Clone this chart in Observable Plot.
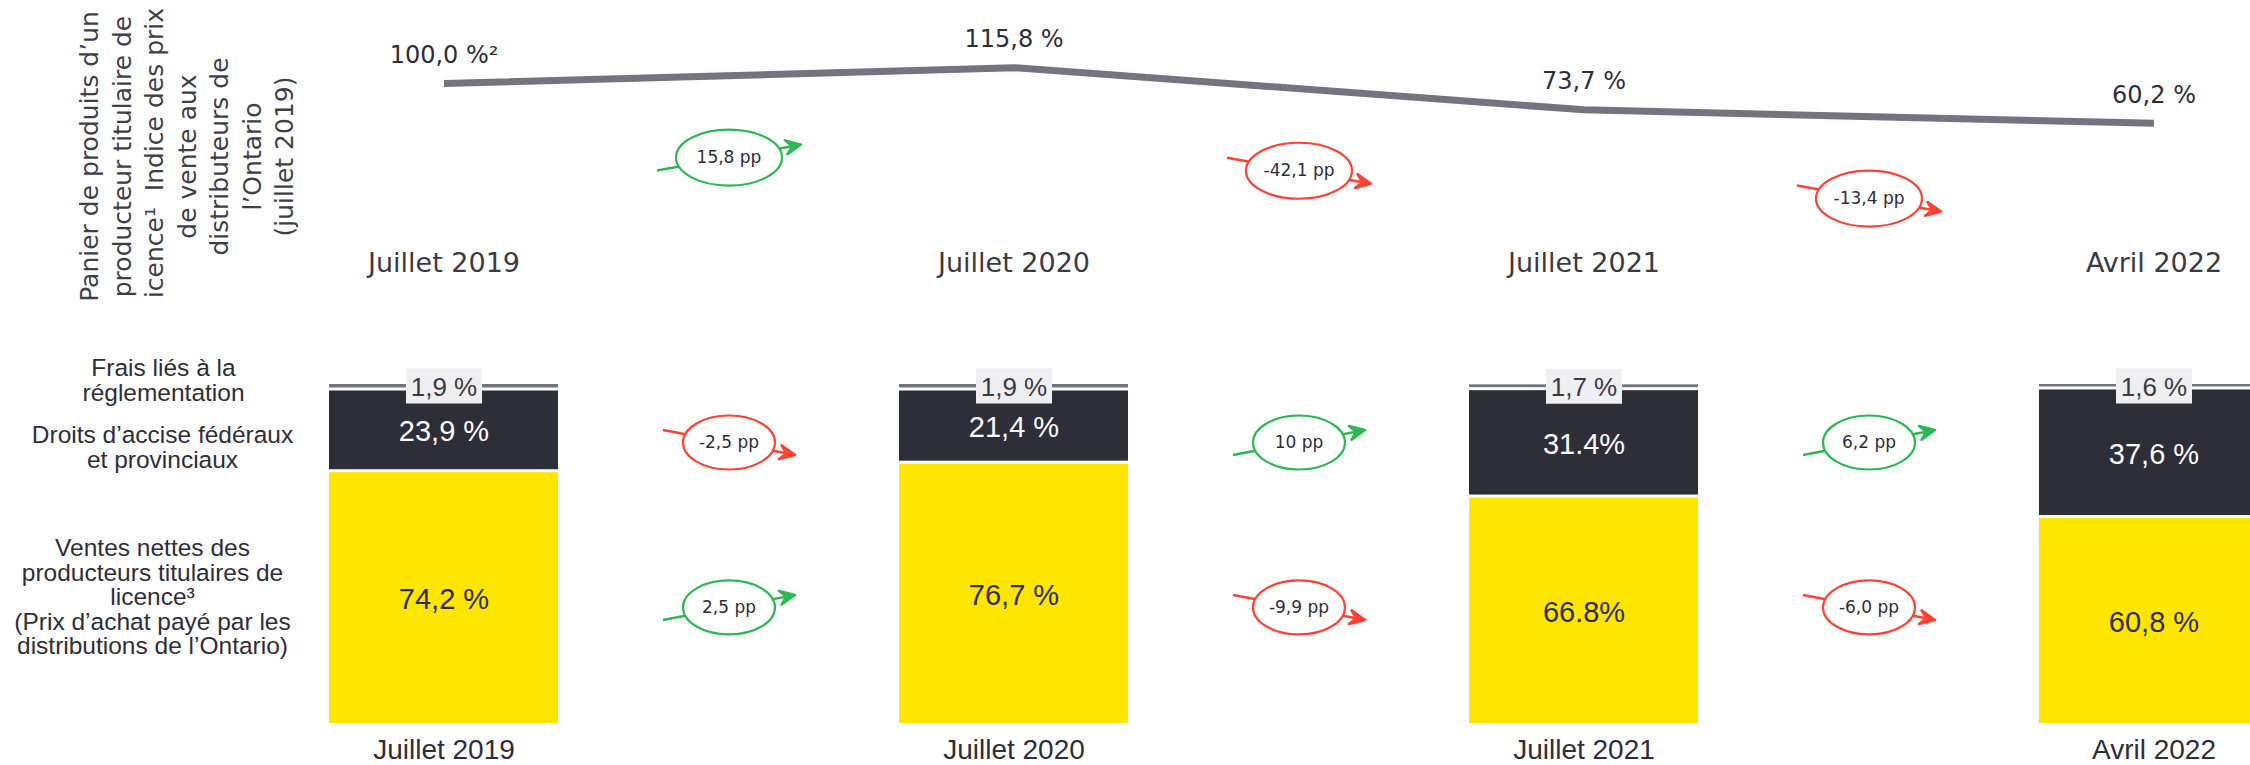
<!DOCTYPE html>
<html>
<head>
<meta charset="utf-8">
<script src="https://cdn.jsdelivr.net/npm/d3@7"></script>
<script src="https://cdn.jsdelivr.net/npm/@observablehq/plot@0.6"></script>
<style>
  html, body { margin: 0; padding: 0; background: #ffffff; overflow: hidden; }
  #chart { width: 2250px; height: 765px; }
  #chart svg { display: block; }
</style>
</head>
<body>
<div id="chart"></div>
<script>
// ---------------- DATA ----------------
const periods = ["Juillet 2019", "Juillet 2020", "Juillet 2021", "Avril 2022"];
const transitions = ["2019→2020", "2020→2021", "2021→2022"];

// Top panel: price index of a licensed producer basket (July 2019 = 100)
const indexValues = [100.0, 115.8, 73.7, 60.2];
const indexLabels = ["100,0 %²", "115,8 %", "73,7 %", "60,2 %"];
const indexChanges = [15.8, -42.1, -13.4];
const indexChangeLabels = ["15,8 pp", "-42,1 pp", "-13,4 pp"];

// Bottom panel: composition of the price (stacked, bottom to top)
const seriesNames = ["Ventes nettes", "Droits d'accise", "Frais"];
const ventesValues = [74.2, 76.7, 66.8, 60.8];
const ventesLabels = ["74,2 %", "76,7 %", "66.8%", "60,8 %"];
const droitsValues = [23.9, 21.4, 31.4, 37.6];
const droitsLabels = ["23,9 %", "21,4 %", "31.4%", "37,6 %"];
const fraisValues = [1.9, 1.9, 1.7, 1.6];
const fraisLabels = ["1,9 %", "1,9 %", "1,7 %", "1,6 %"];

const ventesChanges = [2.5, -9.9, -6.0];
const ventesChangeLabels = ["2,5 pp", "-9,9 pp", "-6,0 pp"];
const droitsChanges = [-2.5, 10, 6.2];
const droitsChangeLabels = ["-2,5 pp", "10 pp", "6,2 pp"];

const seriesTexts = [
  "Ventes nettes des\nproducteurs titulaires de\nlicence³\n(Prix d’achat payé par les\ndistributions de l’Ontario)",
  "Droits d’accise fédéraux\net provinciaux",
  "Frais liés à la\nréglementation"
];
const indexTitle = "Panier de produits d’un\nproducteur titulaire de\nlicence¹  Indice des prix\nde vente aux\ndistributeurs de\nl’Ontario\n(juillet 2019)";

// ---------------- STYLE ----------------
const FONT_D = "'DejaVu Sans', sans-serif";
const FONT_L = "'Liberation Sans', Arial, sans-serif";
const YELLOW = "#FFE600", DARK = "#2E2E38", GRAY = "#747480";
const GREEN = "#2DB757", RED = "#FF4136", INK = "#2E2E38";

// x: periods interleaved with the transitions between them
const xDomain = periods.flatMap((p, i) => i < transitions.length ? [p, transitions[i]] : [p]);
const xScale = {type: "band", domain: xDomain, range: [270, 2328], padding: 0.196, axis: null};

// custom glyphs
function ellipseSymbol(rx, ry) {
  const k = 0.5522847498;
  return {draw(ctx) {
    ctx.moveTo(rx, 0);
    ctx.bezierCurveTo(rx, ry * k, rx * k, ry, 0, ry);
    ctx.bezierCurveTo(-rx * k, ry, -rx, ry * k, -rx, 0);
    ctx.bezierCurveTo(-rx, -ry * k, -rx * k, -ry, 0, -ry);
    ctx.bezierCurveTo(rx * k, -ry, rx, -ry * k, rx, 0);
    ctx.closePath();
  }};
}
function arrowSymbol(hx, hy, up) {
  return {draw(ctx) {
    const x0 = -hx, y0 = up ? hy : -hy, x1 = hx, y1 = -y0;
    const len = Math.hypot(x1 - x0, y1 - y0);
    const ux = (x1 - x0) / len, uy = (y1 - y0) / len, nx = -uy, ny = ux;
    const L = 15, W = 7, N = 9;
    ctx.moveTo(x0, y0);
    ctx.lineTo(x1 - N * ux, y1 - N * uy);
    ctx.moveTo(x1, y1);
    ctx.lineTo(x1 - L * ux + W * nx, y1 - L * uy + W * ny);
    ctx.lineTo(x1 - N * ux, y1 - N * uy);
    ctx.lineTo(x1 - L * ux - W * nx, y1 - L * uy - W * ny);
    ctx.closePath();
  }};
}
const boxSymbol = {draw(ctx) { ctx.rect(-38, -17.5, 76, 35); }};

function changeMarks(rows, {dy, rx, ry, hx, hy}) {
  const ups = rows.filter(d => d.change > 0), downs = rows.filter(d => d.change <= 0);
  const base = {x: "key", y: "y", dy};
  return [
    Plot.dot(ups, {...base, symbol: arrowSymbol(hx, hy, true), fill: GREEN, stroke: GREEN, strokeWidth: 2.5, strokeLinejoin: "round"}),
    Plot.dot(downs, {...base, symbol: arrowSymbol(hx, hy, false), fill: RED, stroke: RED, strokeWidth: 2.5, strokeLinejoin: "round"}),
    Plot.dot(ups, {...base, symbol: ellipseSymbol(rx, ry), fill: "white", stroke: GREEN, strokeWidth: 2.2}),
    Plot.dot(downs, {...base, symbol: ellipseSymbol(rx, ry), fill: "white", stroke: RED, strokeWidth: 2.2}),
    Plot.text(rows, {...base, text: "label", fontSize: 17, fontFamily: FONT_D, fill: INK})
  ];
}

// ---------------- TOP PANEL ----------------
const indexRows = periods.map((p, i) => ({period: p, value: indexValues[i], label: indexLabels[i]}));
const indexChangeRows = transitions.map((key, i) => ({
  key, change: indexChanges[i], label: indexChangeLabels[i],
  y: (indexValues[i] + indexValues[i + 1]) / 2
}));

const topPlot = Plot.plot({
  width: 2250, height: 300,
  marginTop: 0, marginRight: 0, marginBottom: 0, marginLeft: 0,
  style: {background: "transparent", overflow: "hidden"},
  x: xScale,
  y: {domain: [0, 100], range: [183, 83], axis: null},
  marks: [
    Plot.text([indexTitle], {text: d => d, frameAnchor: "left", dx: 185, dy: 6, rotate: -90,
      textAnchor: "middle", lineAnchor: "middle",
      fontSize: 25, fontFamily: FONT_D, fill: "#3F3F4A", lineHeight: 1.3}),
    Plot.line(indexRows, {x: "period", y: "value", stroke: GRAY, strokeWidth: 7,
      strokeLinecap: "butt", strokeLinejoin: "miter"}),
    Plot.text(indexRows, {x: "period", y: "value", text: "label", dy: -28,
      fontSize: 24, fontFamily: FONT_D, fill: INK}),
    ...changeMarks(indexChangeRows, {dy: 82, rx: 53, ry: 28, hx: 72, hy: 13}),
    Plot.text(periods, {x: d => d, text: d => d, frameAnchor: "bottom", dy: -37,
      textAnchor: "middle", lineAnchor: "middle",
      fontSize: 27, fontFamily: FONT_D, fill: "#3A3A45"})
  ]
});

// ---------------- BOTTOM PANEL ----------------
const seriesValues = [ventesValues, droitsValues, fraisValues];
const seriesLabels = [ventesLabels, droitsLabels, fraisLabels];
const barRows = periods.flatMap((p, i) => seriesNames.map((s, j) => ({
  period: p, series: s, value: seriesValues[j][i], label: seriesLabels[j][i]
})));
const totals = periods.map((p, i) => ({
  period: p, total: ventesValues[i] + droitsValues[i] + fraisValues[i], label: fraisLabels[i]
}));
// mid-points of each segment (value space)
const mids = seriesNames.map((s, j) => periods.map((p, i) => {
  let below = 0;
  for (let k = 0; k < j; k++) below += seriesValues[k][i];
  return below + seriesValues[j][i] / 2;
}));
const rowY = mids.map(m => d3.mean(m));
const ventesChangeRows = transitions.map((key, i) => ({key, change: ventesChanges[i], label: ventesChangeLabels[i], y: rowY[0]}));
const droitsChangeRows = transitions.map((key, i) => ({key, change: droitsChanges[i], label: droitsChangeLabels[i], y: rowY[1]}));

// layout offsets of the left-hand series labels (style only)
const seriesLabelLayout = [{dx: 152, dy: -2}, {dx: 162, dy: 16}, {dx: 163, dy: -7}];

const bottomPlot = Plot.plot({
  width: 2250, height: 465,
  marginTop: 0, marginRight: 0, marginBottom: 0, marginLeft: 0,
  style: {background: "transparent", overflow: "hidden"},
  x: xScale,
  y: {domain: [0, 100], range: [426, 84], axis: null},
  color: {domain: seriesNames, range: [YELLOW, DARK, GRAY]},
  marks: [
    Plot.barY(barRows, Plot.stackY({x: "period", y: "value", z: "series", fill: "series", insetBottom: 3})),
    Plot.text(barRows, Plot.stackY({x: "period", y: "value", z: "series",
      text: d => d.series === seriesNames[1] ? d.label : null,
      fill: "white", fontSize: 29, fontFamily: FONT_L})),
    Plot.text(barRows, Plot.stackY({x: "period", y: "value", z: "series",
      text: d => d.series === seriesNames[0] ? d.label : null,
      fill: INK, fontSize: 29, fontFamily: FONT_L})),
    Plot.dot(totals, {x: "period", y: "total", dy: 1.5, symbol: boxSymbol, fill: "#EFEFF2"}),
    Plot.text(totals, {x: "period", y: "total", dy: 3, text: "label",
      fontSize: 26, fontFamily: FONT_L, fill: "#3A3A45"}),
    ...seriesTexts.map((t, j) => Plot.text([{text: t, y: mids[j][0]}], {
      y: "y", text: "text", frameAnchor: "left", dx: seriesLabelLayout[j].dx, dy: seriesLabelLayout[j].dy,
      textAnchor: "middle", lineAnchor: "middle",
      fontSize: 24.5, lineHeight: 1.0, fontFamily: FONT_L, fill: INK})),
    ...changeMarks(droitsChangeRows, {dy: 3, rx: 46, ry: 27, hx: 66, hy: 12.5}),
    ...changeMarks(ventesChangeRows, {dy: 0, rx: 46, ry: 27, hx: 66, hy: 12.5}),
    Plot.text(periods, {x: d => d, text: d => d, frameAnchor: "bottom", dy: -15,
      textAnchor: "middle", lineAnchor: "middle",
      fontSize: 28, fontFamily: FONT_L, fill: INK})
  ]
});

const chart = document.getElementById("chart");
chart.appendChild(topPlot);
chart.appendChild(bottomPlot);
</script>
</body>
</html>
